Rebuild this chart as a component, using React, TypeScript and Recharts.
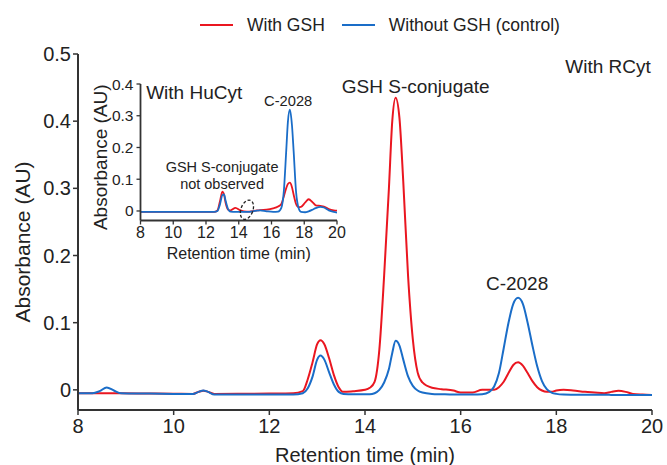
import { LineChart, Line, XAxis, YAxis, Legend, ReferenceDot, Label } from "recharts";

const FONT = "'Liberation Sans', Arial, Helvetica, sans-serif";
const RED = "#ea1620";
const BLUE = "#1a6dc8";
const AXIS = "#333";

// main chromatogram (with RCyt)
const mainTime = [
  8.0, 8.3, 8.45, 8.6, 8.75, 8.9, 9.5, 10.0, 10.4, 10.52, 10.62, 10.72, 10.85, 11.5, 12.0, 12.5,
  12.7, 12.8, 12.9, 13.0, 13.07, 13.15, 13.25, 13.35, 13.45, 13.55, 13.75, 14.0, 14.1, 14.2, 14.3,
  14.4, 14.5, 14.57, 14.64, 14.72, 14.8, 14.9, 15.0, 15.1, 15.2, 15.4, 15.6, 15.85, 16.0, 16.25,
  16.45, 16.6, 16.7, 16.8, 16.9, 17.0, 17.1, 17.2, 17.3, 17.4, 17.5, 17.6, 17.7, 17.8, 17.9, 18.0,
  18.15, 18.35, 18.6, 18.8, 19.0, 19.15, 19.3, 19.45, 19.6, 19.8, 20.0,
];
const mainWithGsh = [
  -0.005, -0.005, -0.005, -0.005, -0.005, -0.005, -0.0055, -0.0057, -0.006, -0.003, -0.0012, -0.003,
  -0.006, -0.0058, -0.0056, -0.0052, -0.002, 0.015, 0.04, 0.068, 0.074, 0.068, 0.047, 0.022, 0.004,
  -0.003, -0.002, 0.0, 0.003, 0.012, 0.06, 0.17, 0.3, 0.4, 0.435, 0.405, 0.31, 0.17, 0.075, 0.026,
  0.011, 0.003, 0.001, -0.001, -0.004, -0.004, 0.0, 0.0, 0.0, 0.004, 0.012, 0.025, 0.037, 0.041,
  0.036, 0.025, 0.013, 0.004, -0.001, -0.003, -0.003, -0.001, 0.0, -0.001, -0.003, -0.004, -0.005,
  -0.003, -0.0015, -0.003, -0.006, -0.007, -0.0075,
];
const mainWithoutGsh = [
  -0.005, -0.005, -0.002, 0.0035, -0.001, -0.005, -0.0055, -0.006, -0.0062, -0.003, -0.001, -0.003,
  -0.0068, -0.007, -0.007, -0.007, -0.005, 0.002, 0.019, 0.045, 0.051, 0.045, 0.026, 0.008, -0.003,
  -0.006, -0.0065, -0.0065, -0.0065, -0.005, 0.0, 0.011, 0.031, 0.055, 0.073, 0.066, 0.045, 0.02,
  0.006, -0.001, -0.004, -0.006, -0.0065, -0.007, -0.007, -0.007, -0.0065, -0.003, 0.005, 0.025,
  0.062, 0.1, 0.128, 0.137, 0.128, 0.1, 0.066, 0.035, 0.013, 0.001, -0.004, -0.006, -0.007, -0.0072,
  -0.0073, -0.0074, -0.0074, -0.0075, -0.0075, -0.0075, -0.0075, -0.0075, -0.0075,
];

// inset chromatogram (with HuCyt)
const insetTime = [
  8, 10, 12, 12.5, 12.7, 12.85, 13.0, 13.1, 13.2, 13.35, 13.5, 13.8, 14.1, 14.5, 15.0, 15.3, 15.7,
  16.1, 16.4, 16.6, 16.75, 16.9, 17.0, 17.12, 17.25, 17.35, 17.5, 17.65, 17.8, 18.05, 18.27, 18.5,
  18.7, 19.0, 19.2, 19.5, 19.8, 20,
];
const insetWithGsh = [
  -0.003, -0.003, -0.003, -0.003, 0.002, 0.03, 0.061, 0.052, 0.025, 0.004, 0.002, 0.01, 0.002,
  -0.002, 0.001, 0.003, 0.004, 0.008, 0.014, 0.022, 0.045, 0.072, 0.085, 0.089, 0.075, 0.052, 0.022,
  0.012, 0.013, 0.026, 0.037, 0.028, 0.018, 0.016, 0.014, 0.006, 0.002, 0.001,
];
const insetWithoutGsh = [
  -0.003, -0.003, -0.003, -0.003, 0.0, 0.02, 0.05, 0.052, 0.032, 0.006, -0.002, -0.003, -0.003,
  -0.003, 0.0, 0.002, -0.001, -0.003, -0.002, 0.01, 0.06, 0.19, 0.28, 0.319, 0.27, 0.19, 0.06, 0.01,
  -0.003, -0.004, -0.001, 0.004, 0.009, 0.013, 0.011, 0.002, -0.003, -0.005,
];

const xTicks = [8, 10, 12, 14, 16, 18, 20];
const mainYTicks = [0, 0.1, 0.2, 0.3, 0.4, 0.5];
const insetYTicks = [0, 0.1, 0.2, 0.3, 0.4];

const mainData = mainTime.map((t, i) => ({ t, withGsh: mainWithGsh[i], withoutGsh: mainWithoutGsh[i] }));
const insetData = insetTime.map((t, i) => ({ t, withGsh: insetWithGsh[i], withoutGsh: insetWithoutGsh[i] }));

const renderLegend = (props: any) => {
  const payload = props.payload || [];
  return (
    <div style={{ display: "flex", alignItems: "center", height: 30, paddingLeft: 200, fontFamily: FONT, fontSize: 17.5, color: "#222" }}>
      {payload.map((entry: any, i: number) => (
        <div key={i} style={{ display: "flex", alignItems: "center", marginRight: 17 }}>
          <svg width={33} height={4} style={{ marginRight: 14 }}>
            <line x1={0} y1={2} x2={33} y2={2} stroke={entry.color} strokeWidth={2} />
          </svg>
          <span>{entry.value}</span>
        </div>
      ))}
    </div>
  );
};

const notObserved = (p: any) => (
  <ellipse
    cx={p.cx}
    cy={p.cy}
    rx={6}
    ry={10}
    fill="none"
    stroke="#222"
    strokeWidth={1.3}
    strokeDasharray="3 2"
    transform={`rotate(20 ${p.cx} ${p.cy})`}
  />
);

export default function App() {
  return (
    <div style={{ position: "absolute", left: 0, top: 0, width: 667, height: 465, background: "#fff", fontFamily: FONT }}>
      <LineChart width={667} height={465} data={mainData} margin={{ top: 24, right: 15, left: 0, bottom: 0 }}>
        <XAxis
          dataKey="t"
          type="number"
          domain={[8, 20]}
          ticks={xTicks}
          allowDataOverflow
          height={55}
          tickSize={5}
          tickMargin={4}
          axisLine={{ stroke: AXIS, strokeWidth: 2 }}
          tickLine={{ stroke: AXIS, strokeWidth: 1.5 }}
          tick={{ fontSize: 20, fill: "#222" }}
        >
          <Label value="Retention time (min)" position="insideBottom" offset={3} style={{ fontSize: 20, fill: "#222" }} />
        </XAxis>
        <YAxis
          type="number"
          domain={[-0.03, 0.5]}
          ticks={mainYTicks}
          allowDataOverflow
          width={78}
          tickSize={5}
          tickMargin={2}
          axisLine={{ stroke: AXIS, strokeWidth: 2 }}
          tickLine={{ stroke: AXIS, strokeWidth: 1.5 }}
          tick={{ fontSize: 20, fill: "#222" }}
        >
          <Label
            value="Absorbance (AU)"
            angle={-90}
            position="insideLeft"
            offset={23}
            dy={10}
            style={{ fontSize: 21, fill: "#222", textAnchor: "middle" }}
          />
        </YAxis>
        <Legend verticalAlign="top" content={renderLegend} wrapperStyle={{ top: 10, left: 0, width: 667, height: 30 }} />
        <Line name="With GSH" dataKey="withGsh" type="monotone" stroke={RED} strokeWidth={2} dot={false} isAnimationActive={false} />
        <Line name="Without GSH (control)" dataKey="withoutGsh" type="monotone" stroke={BLUE} strokeWidth={2} dot={false} isAnimationActive={false} />
        <ReferenceDot x={15.06} y={0.4516} r={0} fill="none" stroke="none" label={{ value: "GSH S-conjugate", position: "center", fontSize: 19, fill: "#222" }} />
        <ReferenceDot x={19.08} y={0.4814} r={0} fill="none" stroke="none" label={{ value: "With RCyt", position: "center", fontSize: 19, fill: "#222" }} />
        <ReferenceDot x={17.18} y={0.1585} r={0} fill="none" stroke="none" label={{ value: "C-2028", position: "center", fontSize: 19, fill: "#222" }} />
      </LineChart>

      <div style={{ position: "absolute", left: 50, top: 74 }}>
        <LineChart width={300} height={190} data={insetData} margin={{ top: 10, right: 13, left: 0, bottom: 0 }}>
          <XAxis
            dataKey="t"
            type="number"
            domain={[8, 20]}
            ticks={xTicks}
            allowDataOverflow
            height={43.5}
            tickSize={4}
            tickMargin={2}
            axisLine={{ stroke: AXIS, strokeWidth: 1.8 }}
            tickLine={{ stroke: AXIS, strokeWidth: 1.3 }}
            tick={{ fontSize: 16, fill: "#222" }}
          >
            <Label value="Retention time (min)" position="insideBottom" offset={5} style={{ fontSize: 16, fill: "#222" }} />
          </XAxis>
          <YAxis
            type="number"
            domain={[-0.03, 0.4]}
            ticks={insetYTicks}
            allowDataOverflow
            width={90.5}
            tickSize={4}
            tickMargin={3}
            axisLine={{ stroke: AXIS, strokeWidth: 1.8 }}
            tickLine={{ stroke: AXIS, strokeWidth: 1.3 }}
            tick={{ fontSize: 15.5, fill: "#222" }}
          >
            <Label
              value="Absorbance (AU)"
              angle={-90}
              position="insideLeft"
              offset={50}
              dy={5}
              style={{ fontSize: 19, fill: "#222", textAnchor: "middle" }}
            />
          </YAxis>
          <Line name="With GSH" dataKey="withGsh" type="monotone" stroke={RED} strokeWidth={1.8} dot={false} isAnimationActive={false} />
          <Line name="Without GSH (control)" dataKey="withoutGsh" type="monotone" stroke={BLUE} strokeWidth={1.8} dot={false} isAnimationActive={false} />
          <ReferenceDot x={11.28} y={0.373} r={0} fill="none" stroke="none" label={{ value: "With HuCyt", position: "center", fontSize: 19, fill: "#222" }} />
          <ReferenceDot x={17.02} y={0.347} r={0} fill="none" stroke="none" label={{ value: "C-2028", position: "center", fontSize: 14.7, fill: "#222" }} />
          <ReferenceDot x={12.98} y={0.14} r={0} fill="none" stroke="none" label={{ value: "GSH S-conjugate", position: "center", fontSize: 14.5, fill: "#222" }} />
          <ReferenceDot x={12.98} y={0.086} r={0} fill="none" stroke="none" label={{ value: "not observed", position: "center", fontSize: 14.5, fill: "#222" }} />
          <ReferenceDot x={14.5} y={0.004} r={10} shape={notObserved} />
        </LineChart>
      </div>
    </div>
  );
}
